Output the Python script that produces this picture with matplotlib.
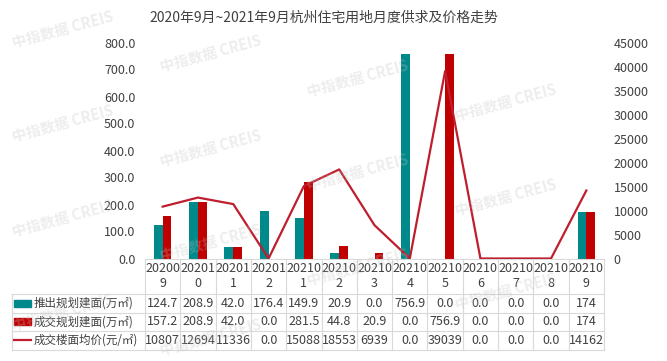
import numpy as np
import matplotlib
matplotlib.use("Agg")
import matplotlib.pyplot as plt
from matplotlib.transforms import blended_transform_factory
from matplotlib.patches import Rectangle
from matplotlib.lines import Line2D

plt.rcParams['font.family'] = ['Noto Sans CJK SC', 'DejaVu Sans']

# ======================================
# data
# ======================================
months = ["202009", "202010", "202011", "202012", "202101", "202102", "202103",
          "202104", "202105", "202106", "202107", "202108", "202109"]
supply = [124.7, 208.9, 42.0, 176.4, 149.9, 20.9, 0.0, 756.9, 0.0, 0.0, 0.0, 0.0, 174]
deal = [157.2, 208.9, 42.0, 0.0, 281.5, 44.8, 20.9, 0.0, 756.9, 0.0, 0.0, 0.0, 174]
price = [10807, 12694, 11336, 0.0, 15088, 18553, 6939, 0.0, 39039, 0.0, 0.0, 0.0, 14162]

row_names = ["推出规划建面(万㎡)", "成交规划建面(万㎡)", "成交楼面均价(元/㎡)"]
title = "2020年9月~2021年9月杭州住宅用地月度供求及价格走势"

teal = "#00898A"
red = "#C00000"
line_red = "#BE1E2D"
txt = "#404040"
grid_c = "#D9D9D9"

W, H = 667, 361
fig = plt.figure(figsize=(W / 100, H / 100), dpi=100)

def fx(px):
    return px / W

def fy(py):
    return 1 - py / H

# ======================================
# bars + line
# ======================================
ax = fig.add_axes([fx(145), fy(258.5), fx(604) - fx(145), fy(42.5) - fy(258.5)])
x = np.arange(len(months))
bw = 0.25
ax.bar(x - bw / 2, supply, bw, color=teal, zorder=2)
ax.bar(x + bw / 2, deal, bw, color=red, zorder=2)
ax.set_xlim(-0.5, len(months) - 0.5)
ax.set_ylim(0, 800)
ax.set_yticks(np.arange(0, 801, 100))
ax.set_yticklabels([f"{v:.1f}" for v in np.arange(0, 801, 100)])
ax.set_xticks([])
ax.tick_params(axis='y', length=0, pad=7, labelsize=9, labelcolor=txt)
for s in ["top", "right", "left"]:
    ax.spines[s].set_visible(False)
ax.spines["bottom"].set_color(grid_c)

ax2 = ax.twinx()
ax2.plot(x, price, color=line_red, lw=1.6, zorder=3)
ax2.set_ylim(0, 45000)
ax2.set_yticks(np.arange(0, 45001, 5000))
ax2.tick_params(axis='y', length=0, pad=7, labelsize=9, labelcolor=txt)
for s in ax2.spines.values():
    s.set_visible(False)

fig.text(fx(324), fy(18), title, ha='center', va='center', fontsize=10, color=txt)

# ======================================
# data table under the chart
# ======================================
tr = blended_transform_factory(ax.transData, fig.transFigure)
rows_y = [258.5, 294, 312.5, 331, 349.5]
x0, x1 = -0.5, len(months) - 0.5

for i in range(len(months) + 1):
    fig.add_artist(Line2D([x0 + i, x0 + i], [fy(rows_y[0]), fy(rows_y[-1])],
                          transform=tr, color=grid_c, lw=0.8))
for yy in rows_y[1:]:
    fig.add_artist(Line2D([x0, x1], [fy(yy), fy(yy)], transform=tr, color=grid_c, lw=0.8))
    fig.add_artist(Line2D([fx(12), fx(145)], [fy(yy), fy(yy)], color=grid_c, lw=0.8))
fig.add_artist(Line2D([fx(12), fx(12)], [fy(rows_y[1]), fy(rows_y[-1])], color=grid_c, lw=0.8))

for i, m in enumerate(months):
    fig.text(i, fy(276), m[:5] + "\n" + m[5:], transform=tr, ha='center', va='center',
             fontsize=9, color=txt, linespacing=1.15)

row_vals = [supply, deal, price]
for r, vals in enumerate(row_vals):
    yc = fy((rows_y[r + 1] + rows_y[r + 2]) / 2)
    for i, v in enumerate(vals):
        fig.text(i, yc, str(v), transform=tr, ha='center', va='center', fontsize=9, color=txt)
    fig.text(fx(34), yc, row_names[r], ha='left', va='center', fontsize=8.3, color=txt)

# legend keys in the table header
for r, c in enumerate([teal, red]):
    yc = (rows_y[r + 1] + rows_y[r + 2]) / 2
    fig.add_artist(Rectangle((fx(14), fy(yc + 3.5)), fx(17), fy(yc - 3.5) - fy(yc + 3.5),
                             transform=fig.transFigure, color=c))
yc = (rows_y[3] + rows_y[4]) / 2
fig.add_artist(Line2D([fx(14), fx(31)], [fy(yc), fy(yc)], color=line_red, lw=1.6))

# ======================================
# watermark (only the tiles that fit inside the picture)
# ======================================
for c in range(5):
    for r in range(-1, 5):
        wx = 63 + 147.5 * c
        wy = 29 + 24.5 * c + 94.5 * r
        if 62 <= wx <= W - 62 and 22 <= wy <= H - 22:
            fig.text(fx(wx), fy(wy), "中指数据 CREIS", ha='center', va='center', rotation=15,
                     fontsize=10.5, fontweight='bold', color='#c0c0c0', alpha=0.28, zorder=10)

fig.savefig("out.png", dpi=100)
